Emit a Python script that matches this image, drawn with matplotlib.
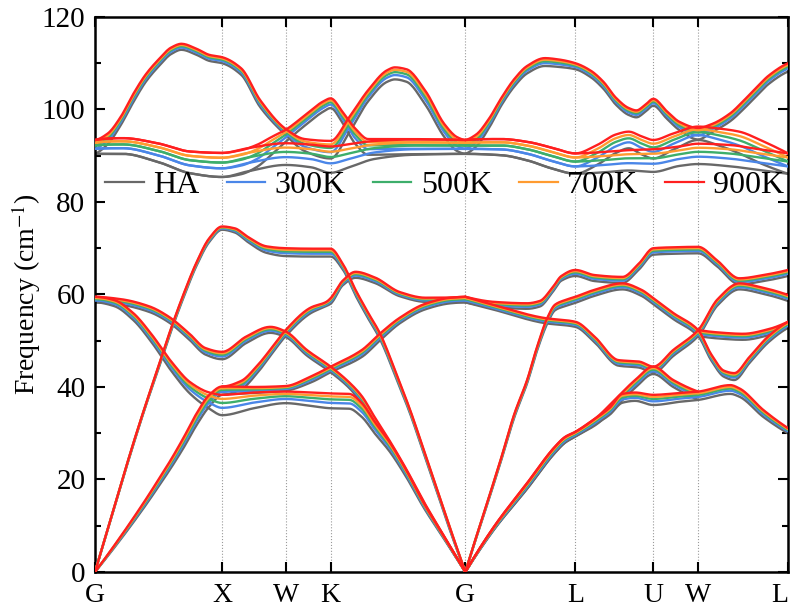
import numpy as np
import matplotlib
matplotlib.use('Agg')
from matplotlib import pyplot as plt
from matplotlib.ticker import MultipleLocator

# high symmetry points along the fcc path
kpts = [0, 1.0, 1.5, 1.854, 2.914, 3.780, 4.393, 4.746, 5.453]
klabels = ['G', 'X', 'W', 'K', 'G', 'L', 'U', 'W', 'L']

temps = ['HA', '300K', '500K', '700K', '900K']
colors = ['#686868', '#4a86e8', '#3dae6b', '#ff9b30', '#ff1f1f']
# position of each temperature between the HA and the 900K curve
frac = [0.0, 0.36, 0.6, 0.8, 1.0]

# branches: path coordinate, HA frequency, 900K frequency (cm-1)
lo_s = [0, 0.1, 0.2, 0.3, 0.4, 0.5, 0.6, 0.68, 0.8, 0.9, 1.0, 1.15, 1.3, 1.5, 1.65, 1.854,
        2.0, 2.15, 2.3, 2.36, 2.45, 2.6, 2.75, 2.85, 2.914, 3.0, 3.1, 3.2, 3.3, 3.4, 3.54, 3.65,
        3.78, 3.9, 4.0, 4.1, 4.2, 4.26, 4.33, 4.393, 4.5, 4.6, 4.746, 4.85, 5.0, 5.1, 5.2, 5.3, 5.453]
lo_ha = [90.4, 92.5, 96.5, 101.5, 106.0, 109.3, 112.0, 112.9, 111.8, 110.5, 110.0, 107.5, 100.5,
         94.5, 91.0, 89.4, 95.0, 101.8, 106.0, 106.5, 106.0, 101.0, 94.0, 91.0, 90.4, 92.0, 96.0,
         101.0, 105.0, 107.8, 109.4, 109.2, 108.7, 107.0, 104.5, 101.0, 98.8, 98.3, 99.5, 100.8,
         98.0, 95.5, 93.5, 95.0, 97.5, 100.0, 102.8, 105.5, 108.2]
lo_900 = [93.4, 94.8, 98.3, 103.3, 107.6, 110.8, 113.4, 114.2, 113.1, 111.8, 111.3, 108.9, 102.0,
          95.8, 93.6, 93.2, 98.3, 104.2, 108.5, 109.1, 108.7, 104.0, 96.8, 94.0, 93.4, 94.6, 98.0,
          102.6, 106.6, 109.4, 111.1, 110.8, 110.0, 108.4, 106.0, 102.5, 100.3, 99.8, 101.0, 102.3,
          99.6, 97.3, 96.0, 96.8, 99.2, 101.8, 104.6, 107.3, 110.0]

toa_s = [0, 0.22, 0.49, 0.75, 1.0, 1.15, 1.27, 1.4, 1.5, 1.65, 1.8, 1.854, 1.95, 2.05, 2.15, 2.4,
         2.914, 3.2, 3.4, 3.6, 3.78, 3.95, 4.1, 4.2, 4.3, 4.393, 4.55, 4.746, 4.9, 5.07, 5.25, 5.453]
toa_ha = [90.4, 90.4, 88.7, 86.2, 85.4, 86.0, 87.5, 90.5, 93.0, 96.5, 99.6, 100.3, 97.0, 92.5, 90.2,
          90.3, 90.4, 90.1, 89.0, 87.2, 86.1, 88.0, 90.6, 91.6, 90.3, 89.4, 91.3, 93.4, 92.3, 90.5,
          88.2, 86.1]
toa_900 = [93.4, 93.8, 92.7, 90.9, 90.6, 91.2, 92.3, 94.2, 95.6, 98.7, 101.8, 102.4, 99.4, 95.8, 93.6,
           93.6, 93.4, 93.6, 93.0, 91.7, 90.5, 92.3, 94.6, 95.2, 94.2, 93.4, 94.8, 96.3, 95.9, 95.2,
           93.2, 90.5]

tob_s = [0, 0.22, 0.49, 0.75, 1.0, 1.2, 1.5, 1.7, 1.854, 2.0, 2.2, 2.5, 2.914, 3.2, 3.4, 3.6, 3.78,
         4.0, 4.2, 4.393, 4.6, 4.746, 5.0, 5.2, 5.453]
tob_ha = [90.4, 90.4, 88.7, 86.2, 85.4, 86.6, 88.0, 87.5, 86.3, 87.5, 89.3, 90.2, 90.4, 90.1, 89.0,
          87.2, 86.1, 86.4, 86.8, 86.5, 87.8, 88.2, 87.7, 87.0, 86.1]
tob_900 = [93.4, 93.8, 92.7, 90.9, 90.6, 91.6, 92.7, 92.4, 92.0, 92.5, 93.2, 93.5, 93.4, 93.6, 93.0,
           91.7, 90.5, 90.8, 91.2, 91.4, 92.0, 92.6, 92.3, 91.5, 90.5]

la_s = [0, 0.1, 0.2, 0.3, 0.4, 0.5, 0.6, 0.7, 0.8, 0.9, 1.0, 1.1, 1.2, 1.35, 1.5, 1.7, 1.854, 1.95,
        2.05, 2.15, 2.24, 2.39, 2.48, 2.6, 2.7, 2.8, 2.914, 3.0, 3.1, 3.2, 3.3, 3.4, 3.48, 3.56, 3.62,
        3.7, 3.78, 3.93, 4.15, 4.3, 4.393, 4.55, 4.746, 4.85, 4.95, 5.03, 5.15, 5.3, 5.453]
la_ha = [0, 9.2, 18.4, 27.4, 36.0, 44.0, 52.2, 59.6, 66.3, 71.4, 74.0, 73.4, 71.4, 69.0, 68.3, 68.2,
         68.2, 65.4, 59.8, 54.8, 50.5, 40.5, 34.2, 24.6, 16.6, 8.5, 0, 7.4, 15.8, 24.5, 33.5, 40.8,
         48.0, 53.8, 56.6, 57.5, 58.2, 59.7, 61.1, 59.7, 57.9, 54.7, 51.0, 45.7, 42.2, 41.5, 45.2,
         49.7, 52.8]
la_900 = [0, 9.3, 18.6, 27.7, 36.3, 44.5, 52.8, 60.3, 67.0, 72.2, 74.7, 74.3, 72.5, 70.4, 70.0, 69.9,
          69.9, 66.6, 61.0, 56.0, 51.7, 41.5, 35.0, 25.3, 17.2, 9.0, 0, 7.6, 16.2, 25.0, 34.2, 41.5,
          48.8, 55.0, 57.8, 58.8, 59.5, 61.0, 62.4, 61.0, 59.2, 56.0, 52.3, 47.0, 43.5, 43.0, 46.5,
          51.0, 54.1]

taa_s = [0, 0.2, 0.4, 0.5, 0.6, 0.7, 0.8, 0.9, 1.0, 1.25, 1.5, 1.7, 1.854, 2.1, 2.24, 2.4, 2.6, 2.8,
         2.914, 3.14, 3.4, 3.5, 3.6, 3.67, 3.78, 3.93, 4.15, 4.28, 4.393, 4.55, 4.746, 4.89, 5.07,
         5.26, 5.453]
taa_ha = [0, 7.0, 14.5, 18.5, 22.6, 27.0, 31.8, 35.8, 38.3, 38.7, 39.2, 41.0, 43.2, 46.5, 50.0, 53.8,
          56.8, 58.1, 58.3, 57.3, 56.9, 57.4, 60.5, 63.0, 64.0, 62.9, 62.5, 65.4, 68.6, 68.8, 68.9,
          66.2, 62.2, 62.9, 64.0]
taa_900 = [0, 7.6, 15.7, 20.0, 24.4, 29.2, 34.3, 38.3, 40.1, 40.0, 40.2, 42.3, 44.4, 48.0, 51.5, 55.0,
           58.0, 59.3, 59.5, 58.4, 58.1, 58.6, 61.5, 64.0, 65.3, 64.2, 63.8, 66.7, 70.0, 70.2, 70.3,
           67.5, 63.5, 64.2, 65.3]

tab_s = [0, 0.15, 0.3, 0.45, 0.6, 0.75, 0.9, 1.0, 1.25, 1.5, 1.7, 1.854, 2.0, 2.1, 2.2, 2.32, 2.45,
         2.585, 2.75, 2.914, 3.14, 3.4, 3.62, 3.7, 3.78, 3.9, 4.05, 4.15, 4.25, 4.393, 4.6, 4.746,
         5.0, 5.07, 5.26, 5.453]
tab_ha = [58.3, 57.5, 54.5, 49.5, 43.5, 38.5, 35.3, 33.9, 35.4, 36.5, 35.9, 35.4, 35.3, 33.5, 30.0,
          26.0, 20.5, 14.0, 7.0, 0, 9.2, 18.0, 25.8, 28.0, 29.3, 31.3, 34.0, 36.6, 37.0, 36.1, 36.8,
          37.2, 38.5, 37.9, 33.5, 30.0]
tab_900 = [59.5, 58.8, 56.0, 51.2, 45.5, 41.0, 38.8, 38.3, 38.8, 39.0, 38.8, 38.6, 38.5, 36.5, 32.5,
           28.0, 22.0, 15.0, 7.5, 0, 9.8, 19.2, 27.1, 29.2, 30.3, 32.5, 35.5, 38.5, 38.8, 38.3, 38.7,
           39.0, 40.4, 39.7, 35.0, 31.1]

tac_s = [0, 0.2, 0.43, 0.58, 0.74, 0.87, 1.0, 1.19, 1.38, 1.5, 1.667, 1.854, 2.0, 2.1, 2.2, 2.32,
         2.45, 2.585, 2.75, 2.914, 3.14, 3.4, 3.62, 3.7, 3.78, 3.95, 4.1, 4.25, 4.393, 4.55, 4.746]
tac_ha = [58.3, 57.8, 56.2, 54.0, 50.3, 47.0, 46.0, 49.5, 51.7, 50.8, 46.8, 43.2, 39.8, 36.5, 32.2,
          27.0, 21.0, 14.5, 7.2, 0, 9.2, 18.0, 25.8, 28.0, 29.3, 32.0, 35.8, 39.8, 42.8, 40.0, 37.2]
tac_900 = [59.5, 59.0, 57.4, 55.2, 51.6, 48.4, 47.6, 50.9, 53.0, 52.0, 48.0, 44.4, 41.0, 38.0, 33.5,
           28.3, 22.2, 15.3, 7.6, 0, 9.8, 19.2, 27.1, 29.2, 30.3, 33.5, 37.5, 41.5, 44.4, 41.5, 39.0]

tad_s = [1.0, 1.15, 1.27, 1.4, 1.5, 1.7, 1.82, 1.854, 1.95, 2.05, 2.2, 2.4, 2.6, 2.914, 3.14, 3.54,
         3.78, 3.93, 4.12, 4.28, 4.393, 4.55, 4.746, 4.9, 5.07, 5.25, 5.453]
tad_ha = [38.3, 39.5, 42.8, 47.5, 51.0, 56.0, 57.5, 58.0, 62.0, 63.6, 62.5, 59.6, 58.4, 58.3, 56.7,
          53.8, 53.0, 49.7, 44.6, 44.2, 43.1, 46.7, 51.0, 57.7, 61.1, 60.2, 58.6]
tad_900 = [40.1, 41.3, 44.4, 48.8, 52.3, 57.2, 58.4, 59.2, 63.0, 64.9, 63.7, 60.5, 59.3, 59.5, 57.7,
           54.9, 54.1, 50.9, 45.8, 45.5, 44.4, 48.0, 52.3, 59.0, 62.4, 61.5, 59.9]

tae_s = [4.746, 4.9, 5.1, 5.3, 5.453]
tae_ha = [51.0, 50.5, 50.2, 51.2, 52.8]
tae_900 = [52.3, 51.8, 51.5, 52.5, 54.1]

bands = [(lo_s, lo_ha, lo_900), (toa_s, toa_ha, toa_900), (tob_s, tob_ha, tob_900),
         (la_s, la_ha, la_900), (taa_s, taa_ha, taa_900), (tab_s, tab_ha, tab_900),
         (tac_s, tac_ha, tac_900), (tad_s, tad_ha, tad_900), (tae_s, tae_ha, tae_900)]


def end_slope(h0, h1, d0, d1):
    m = ((2 * h0 + h1) * d0 - h0 * d1) / (h0 + h1)
    if np.sign(m) != np.sign(d0):
        m = 0.0
    elif np.sign(d0) != np.sign(d1) and abs(m) > abs(3 * d0):
        m = 3 * d0
    return m


def pchip(x, y, xn):
    # monotone cubic through the read points, just to draw a smooth line
    x = np.asarray(x, float)
    y = np.asarray(y, float)
    h = np.diff(x)
    d = np.diff(y) / h
    n = len(x)
    m = np.zeros(n)
    if n == 2:
        m[:] = d[0]
    else:
        for k in range(1, n - 1):
            if d[k - 1] * d[k] > 0:
                w1 = 2 * h[k] + h[k - 1]
                w2 = h[k] + 2 * h[k - 1]
                m[k] = (w1 + w2) / (w1 / d[k - 1] + w2 / d[k])
        m[0] = end_slope(h[0], h[1], d[0], d[1])
        m[-1] = end_slope(h[-1], h[-2], d[-1], d[-2])
    i = np.clip(np.searchsorted(x, xn) - 1, 0, n - 2)
    t = (xn - x[i]) / h[i]
    h00 = 2 * t**3 - 3 * t**2 + 1
    h10 = t**3 - 2 * t**2 + t
    h01 = -2 * t**3 + 3 * t**2
    h11 = t**3 - t**2
    return h00 * y[i] + h10 * h[i] * m[i] + h01 * y[i + 1] + h11 * h[i] * m[i + 1]


def pieces(s):
    # break every branch at the zone centre so the acoustic V stays sharp
    g = kpts[4]
    if g in s and s[0] < g < s[-1]:
        j = s.index(g)
        return [(0, j + 1), (j, len(s))]
    return [(0, len(s))]


plt.rcParams['font.family'] = 'Liberation Serif'
plt.rcParams['mathtext.fontset'] = 'stix'

fig = plt.figure(figsize=(7.93, 6.12), dpi=100)
ax = fig.add_axes([0.1198, 0.0654, 0.8739, 0.9069])

for k in kpts[1:-1]:
    ax.axvline(k, color='#9a9a9a', ls=':', lw=0.8, zorder=1)

for t in range(len(temps)):
    for s, ha, hot in bands:
        ha = np.array(ha)
        hot = np.array(hot)
        val = ha + frac[t] * (hot - ha)
        for a, b in pieces(s):
            xs = np.linspace(s[a], s[b - 1], 300)
            ax.plot(xs, pchip(s[a:b], val[a:b], xs), color=colors[t], lw=1.7,
                    zorder=2 + t, solid_capstyle='round')
    ax.plot([], [], color=colors[t], lw=1.6, label=temps[t])

ax.set_xlim(kpts[0], kpts[-1])
ax.set_ylim(0, 120)
ax.set_xticks(kpts)
ax.set_xticklabels(klabels)
ax.get_xticklabels()[-1].set_horizontalalignment('right')
ax.yaxis.set_major_locator(MultipleLocator(20))
ax.yaxis.set_minor_locator(MultipleLocator(10))
ax.tick_params(which='both', direction='in', top=True, right=True, width=1.5)
ax.tick_params(which='major', length=7)
ax.tick_params(which='minor', length=4)
ax.tick_params(axis='x', pad=8, labelsize=20)
ax.tick_params(axis='y', pad=7, labelsize=21)
for sp in ax.spines.values():
    sp.set_linewidth(1.8)
ax.set_ylabel('Frequency (cm$^{-1}$)', fontsize=20, labelpad=-1)

ax.legend(loc='center', bbox_to_anchor=(0.505, 0.697), ncol=5, frameon=False, fontsize=23,
          handlelength=1.2, handletextpad=0.3, columnspacing=0.85, borderaxespad=0)

fig.savefig('out.png', dpi=100)
plt.close()
